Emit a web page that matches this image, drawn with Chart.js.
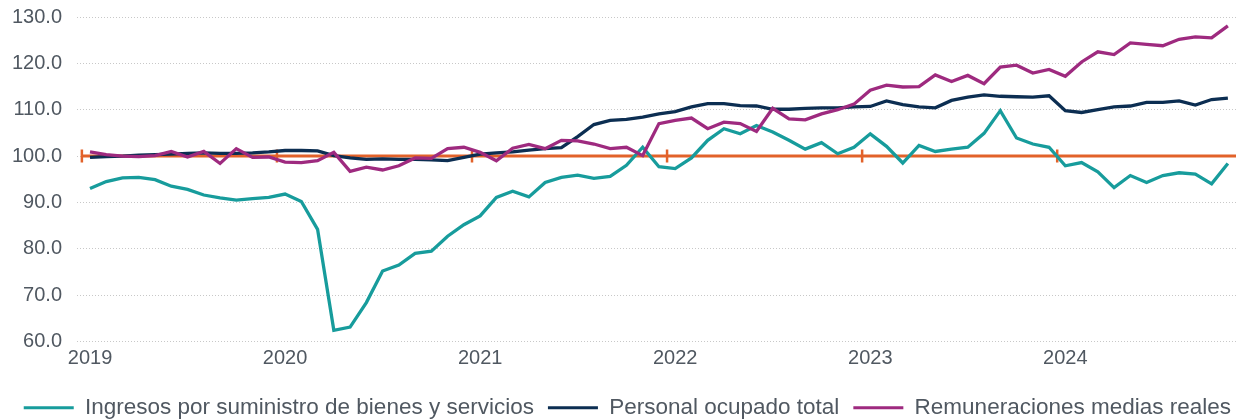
<!DOCTYPE html>
<html>
<head>
<meta charset="utf-8">
<script src="https://cdn.jsdelivr.net/npm/chart.js@4"></script>
<style>
  html, body { margin: 0; padding: 0; background: #ffffff; }
  #wrap { width: 1245px; height: 420px; position: relative; }
</style>
</head>
<body>
<div id="wrap"><canvas id="c"></canvas></div>
<script>
// ---- data ----
const yearLabels = ['2019', '2020', '2021', '2022', '2023', '2024'];
const seriesNames = [
  'Ingresos por suministro de bienes y servicios',
  'Personal ocupado total',
  'Remuneraciones medias reales'
];
const ingresos = [
  93.0, 94.5, 95.3, 95.4, 94.9, 93.5, 92.8, 91.6, 91.0, 90.5, 90.8, 91.1,
  91.8, 90.2, 84.2, 62.4, 63.1, 68.4, 75.2, 76.5, 79.0, 79.5, 82.7, 85.2,
  87.1, 91.1, 92.4, 91.2, 94.3, 95.4, 95.9, 95.2, 95.6, 98.0, 101.9, 97.7,
  97.3, 99.6, 103.4, 105.9, 104.8, 106.6, 105.2, 103.4, 101.5, 102.9, 100.5, 101.9,
  104.8, 102.1, 98.5, 102.3, 101.0, 101.5, 101.9, 104.9, 109.8, 103.9, 102.6, 101.9,
  97.9, 98.6, 96.6, 93.2, 95.8, 94.3, 95.8, 96.4, 96.1, 94.0, 98.4
];
const personal = [
  99.7, 99.9, 100.0, 100.2, 100.3, 100.4, 100.6, 100.7, 100.6, 100.6, 100.7, 100.9,
  101.2, 101.2, 101.1, 100.1, 99.6, 99.3, 99.4, 99.3, 99.3, 99.2, 99.0, 99.7,
  100.4, 100.7, 100.9, 101.3, 101.6, 101.8, 104.2, 106.8, 107.7, 107.9, 108.4, 109.1,
  109.6, 110.6, 111.3, 111.3, 110.9, 110.8, 110.1, 110.1, 110.3, 110.4, 110.4, 110.6,
  110.7, 111.9, 111.1, 110.6, 110.4, 112.0, 112.7, 113.2, 112.9, 112.8, 112.7, 113.0,
  109.8, 109.4, 110.0, 110.6, 110.8, 111.6, 111.6, 111.9, 111.0, 112.2, 112.5
];
const remuneraciones = [
  100.9, 100.3, 100.0, 99.9, 100.1, 101.0, 99.8, 101.0, 98.4, 101.6, 99.7, 99.8,
  98.7, 98.6, 99.0, 100.8, 96.7, 97.6, 97.0, 97.9, 99.6, 99.5, 101.6, 101.9,
  100.8, 99.0, 101.7, 102.5, 101.6, 103.4, 103.3, 102.6, 101.6, 101.9, 100.1, 107.0,
  107.7, 108.2, 105.9, 107.3, 107.0, 105.3, 110.3, 108.0, 107.8, 109.1, 110.0, 111.2,
  114.2, 115.3, 114.9, 115.0, 117.5, 116.1, 117.4, 115.6, 119.2, 119.6, 117.9, 118.7,
  117.2, 120.3, 122.5, 121.9, 124.4, 124.1, 123.8, 125.2, 125.7, 125.5, 128.1
];
const refValue = 100;
const yTicks = [60, 70, 80, 90, 100, 110, 120, 130];

// ---- derived ----
const monthsPerYear = 12;
const yearTickIndex = yearLabels.map((_, k) => k * monthsPerYear);
const lastIndex = ingresos.length - 1;
const toPoints = arr => arr.map((v, i) => ({ x: i, y: v }));
const refLine = [{ x: -0.5, y: refValue }, { x: lastIndex + 0.5, y: refValue }];
const refMarks = yearTickIndex.map(i => ({ x: i - 0.5, y: refValue }));

const colors = ['#179C9C', '#0C2E52', '#9E2A7F'];
const orange = '#E2622A';
const textColor = '#505861';
const fontFamily = '"Liberation Sans", Arial, sans-serif';

new Chart(document.getElementById('c'), {
  type: 'line',
  data: {
    datasets: [
      { label: seriesNames[0], data: toPoints(ingresos), borderColor: colors[0], backgroundColor: colors[0], borderWidth: 3.3, pointRadius: 0, tension: 0, order: 3 },
      { label: seriesNames[1], data: toPoints(personal), borderColor: colors[1], backgroundColor: colors[1], borderWidth: 3.3, pointRadius: 0, tension: 0, order: 2 },
      { label: seriesNames[2], data: toPoints(remuneraciones), borderColor: colors[2], backgroundColor: colors[2], borderWidth: 3.3, pointRadius: 0, tension: 0, order: 1 },
      { label: 'ref', data: refLine, borderColor: orange, backgroundColor: orange, borderWidth: 3, pointRadius: 0, order: 5 },
      { label: 'refmarks', type: 'scatter', data: refMarks, showLine: false, pointStyle: 'line', pointRotation: 90, pointRadius: 6.5, pointBorderWidth: 2.5, borderColor: orange, backgroundColor: orange, order: 4 }
    ]
  },
  options: {
    responsive: true,
    maintainAspectRatio: false,
    devicePixelRatio: 1,
    animation: false,
    layout: { padding: { top: 17, left: 0, right: 0, bottom: -9 } },
    plugins: {
      tooltip: { enabled: false },
      legend: {
        position: 'bottom',
        align: 'end',
        labels: {
          color: textColor,
          font: { family: fontFamily, size: 22.5 },
          boxWidth: 50,
          boxHeight: 3,
          padding: 14,
          generateLabels: (chart) => chart.data.datasets.slice(0, 3).map((ds, i) => ({
            text: ds.label,
            fillStyle: ds.borderColor,
            strokeStyle: ds.borderColor,
            lineWidth: 0,
            hidden: false,
            datasetIndex: i,
            fontColor: textColor
          }))
        }
      }
    },
    scales: {
      x: {
        type: 'linear',
        min: -0.8,
        max: lastIndex + 0.5,
        afterBuildTicks: (scale) => { scale.ticks = yearTickIndex.map(v => ({ value: v })); },
        afterFit: (scale) => { scale.height = 41; scale.paddingLeft = 0; scale.paddingRight = 0; },
        grid: { display: false, drawTicks: false },
        border: { display: false },
        ticks: {
          autoSkip: false,
          maxRotation: 0,
          padding: 5,
          color: textColor,
          font: { family: fontFamily, size: 20 },
          callback: (v) => yearLabels[yearTickIndex.indexOf(v)]
        }
      },
      y: {
        min: 60,
        max: 130,
        afterBuildTicks: (scale) => { scale.ticks = yTicks.map(v => ({ value: v })); },
        afterFit: (scale) => { scale.width = 77; scale.paddingTop = 0; scale.paddingBottom = 0; },
        grid: { color: '#C8C8C8', lineWidth: 1, drawTicks: false },
        border: { display: false, dash: [1, 2] },
        ticks: {
          padding: 15,
          color: textColor,
          font: { family: fontFamily, size: 20 },
          callback: (v) => v.toFixed(1)
        }
      }
    }
  }
});
</script>
</body>
</html>
